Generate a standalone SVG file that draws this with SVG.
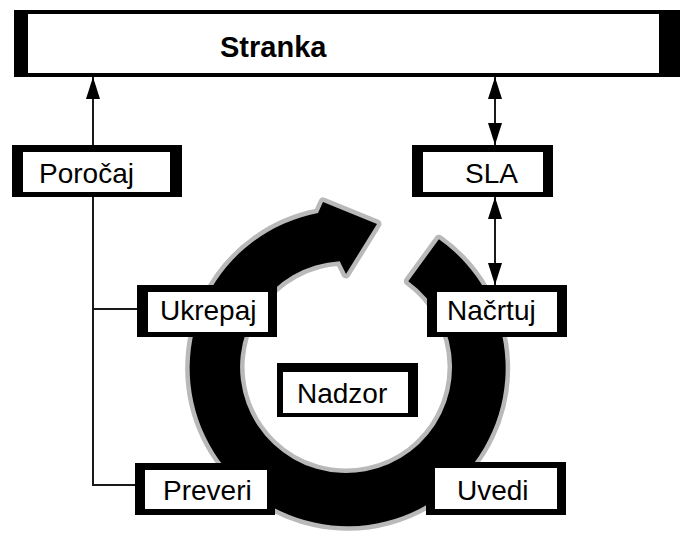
<svg xmlns="http://www.w3.org/2000/svg" width="685" height="534" viewBox="0 0 685 534">
  <style>
    .frame { fill: #000; }
    .face { fill: #fff; }
    .label { font-family: "Liberation Sans", Arial, sans-serif; font-size: 28px; fill: #000; }
    .title { font-family: "Liberation Sans", Arial, sans-serif; font-size: 29px; font-weight: bold; fill: #000; }
    .link { stroke: #1a1a1a; stroke-width: 2; fill: none; }
    .ring { fill: #000; stroke: #b9b9b9; stroke-width: 9; stroke-linejoin: round; paint-order: stroke; }
  </style>
  <defs>
    <marker id="head" viewBox="0 0 22 14" refX="22" refY="7" markerWidth="22" markerHeight="14" markerUnits="userSpaceOnUse" orient="auto-start-reverse">
      <path d="M0,0 L22,7 L0,14 Z" fill="#000"/>
    </marker>
  </defs>

  <rect width="685" height="534" fill="#fff"/>

  <!-- circular process arrow -->
  <g id="cycle">
    <path class="ring" d="M438.9,239.2 A158,158 0 1 1 318,213 L323,202 L377,224 L346,274 L339.7,261.2 A106,106 0 1 0 408.3,281.2 Z"/>
  </g>

  <!-- connectors -->
  <g id="connectors">
    <line class="link" x1="93" y1="145" x2="93" y2="77" marker-end="url(#head)"/>
    <polyline class="link" points="93,197 93,485 135,485"/>
    <line class="link" x1="93" y1="309" x2="137" y2="309"/>
    <line class="link" x1="495" y1="77" x2="495" y2="145" marker-start="url(#head)" marker-end="url(#head)"/>
    <line class="link" x1="495" y1="197" x2="495" y2="285" marker-start="url(#head)" marker-end="url(#head)"/>
  </g>

  <g id="stranka">
    <rect class="frame" x="14" y="10" width="666" height="67"/>
    <rect class="face" x="28" y="14" width="631" height="59"/>
    <text class="title" x="220" y="57">Stranka</text>
  </g>

  <g id="porocaj">
    <rect class="frame" x="12" y="145" width="170" height="52"/>
    <rect class="face" x="23" y="152" width="147" height="40"/>
    <text class="label" x="39" y="183">Poročaj</text>
  </g>

  <g id="sla">
    <rect class="frame" x="412" y="145" width="141" height="52"/>
    <rect class="face" x="423" y="152" width="120" height="40"/>
    <text class="label" x="465" y="183">SLA</text>
  </g>

  <g id="ukrepaj">
    <rect class="frame" x="137" y="285" width="140" height="52"/>
    <rect class="face" x="148" y="292" width="120" height="40"/>
    <text class="label" x="160" y="320">Ukrepaj</text>
  </g>

  <g id="nacrtuj">
    <rect class="frame" x="427" y="285" width="140" height="52"/>
    <rect class="face" x="437" y="292" width="120" height="40"/>
    <text class="label" x="447" y="320">Načrtuj</text>
  </g>

  <g id="nadzor">
    <rect class="frame" x="277" y="363" width="141" height="54"/>
    <rect class="face" x="283" y="372" width="125" height="41"/>
    <text class="label" x="297" y="403">Nadzor</text>
  </g>

  <g id="preveri">
    <rect class="frame" x="135" y="463" width="140" height="52"/>
    <rect class="face" x="145" y="470" width="122" height="39"/>
    <text class="label" x="163" y="500">Preveri</text>
  </g>

  <g id="uvedi">
    <rect class="frame" x="426" y="462" width="140" height="53"/>
    <rect class="face" x="435" y="468" width="122" height="41"/>
    <text class="label" x="457" y="500">Uvedi</text>
  </g>
</svg>
